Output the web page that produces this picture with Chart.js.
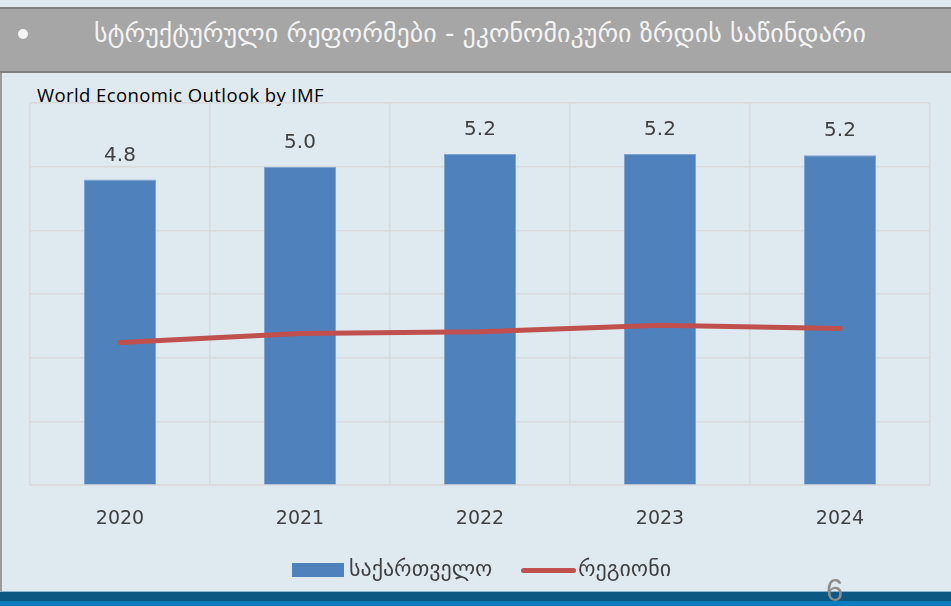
<!DOCTYPE html>
<html>
<head>
<meta charset="utf-8">
<script src="https://cdn.jsdelivr.net/npm/chart.js@4.4.0/dist/chart.umd.min.js"></script>
<style>
  html, body { margin: 0; padding: 0; }
  body { width: 951px; height: 606px; position: relative; overflow: hidden; background: #dfe9f0; font-family: 'DejaVu Sans', sans-serif; }
  #header { position: absolute; left: 0; top: 7px; width: 951px; height: 62px; background: #a6a6a6; border-top: 2px solid #7f7f7f; border-bottom: 2px solid #7f7f7f; }
  #bullet { position: absolute; left: 18px; top: 20px; width: 10px; height: 10px; border-radius: 50%; background: #f4f4f4; }
  #headline { position: absolute; left: 0; top: 9px; width: 960px; text-align: center; color: #f4f4f4; font-size: 26px; }
  #leftline { position: absolute; left: 0; top: 73px; width: 2px; height: 518px; background: #9a9a9a; }
  #subtitle { position: absolute; left: 37px; top: 82px; font-family: 'Open Sans', sans-serif; font-size: 18.5px; letter-spacing: 0.4px; color: #000; }
  #chartBox { position: absolute; left: 0; top: 90px; width: 951px; height: 478px; }
  #legend { position: absolute; left: 0; top: 556px; width: 951px; height: 28px; }
  .leg { position: absolute; top: 0; font-size: 22px; color: #404040; }
  #pagenum { position: absolute; left: 826px; top: 573px; font-family: 'Liberation Sans', sans-serif; font-size: 31px; color: #8c8c8c; z-index: 2; }
  #band1 { position: absolute; left: 0; top: 591px; width: 951px; height: 1px; background: #8fb1c6; }
  #band2 { position: absolute; left: 0; top: 592px; width: 951px; height: 9px; background: #0b5883; }
  #band3 { position: absolute; left: 0; top: 601px; width: 951px; height: 5px; background: #0b7dbf; }
</style>
</head>
<body>
<div id="header">
  <div id="bullet"></div>
  <div id="headline">სტრუქტურული რეფორმები - ეკონომიკური ზრდის საწინდარი</div>
</div>
<div id="leftline"></div>
<div id="subtitle">World Economic Outlook by IMF</div>
<div id="chartBox"><canvas id="growthChart"></canvas></div>
<div id="legend">
  <div style="position:absolute;left:292px;top:7px;width:52px;height:14px;background:#4f81bd;"></div>
  <div class="leg" style="left:349px;">საქართველო</div>
  <div style="position:absolute;left:521px;top:12px;width:55px;height:5px;border-radius:3px;background:#c0504d;"></div>
  <div class="leg" style="left:578px;">რეგიონი</div>
</div>
<div id="band1"></div>
<div id="band2"></div>
<div id="band3"></div>
<div id="pagenum">6</div>

<script>
// Data
const years = ['2020', '2021', '2022', '2023', '2024'];
const georgiaGrowth = [4.8, 5.0, 5.2, 5.2, 5.18];
const regionGrowth = [2.24, 2.38, 2.41, 2.51, 2.46];
const yTicks = [0, 1, 2, 3, 4, 5, 6];

const textColor = '#404040';
const gridColor = '#d9d9d9';

// Value labels above the bars
const barLabels = {
    id: 'barLabels',
    afterDatasetsDraw(chart) {
        const ctx = chart.ctx;
        const meta = chart.getDatasetMeta(0);
        ctx.save();
        ctx.font = '20px "DejaVu Sans", sans-serif';
        ctx.fillStyle = textColor;
        ctx.textAlign = 'center';
        ctx.textBaseline = 'middle';
        meta.data.forEach((bar, i) => {
            ctx.fillText(georgiaGrowth[i].toFixed(1), bar.x, bar.y - 24);
        });
        ctx.restore();
    }
};

const ctx = document.getElementById('growthChart').getContext('2d');
new Chart(ctx, {
    data: {
        labels: years,
        datasets: [
            {
                type: 'bar',
                label: 'საქართველო',
                data: georgiaGrowth,
                backgroundColor: '#4f81bd',
                borderColor: '#7fa3d0',
                borderWidth: 1,
                categoryPercentage: 0.8,
                barPercentage: 0.5,
                order: 2
            },
            {
                type: 'line',
                label: 'რეგიონი',
                data: regionGrowth,
                borderColor: '#c0504d',
                borderWidth: 5,
                borderCapStyle: 'round',
                pointRadius: 0,
                tension: 0,
                order: 1
            }
        ]
    },
    options: {
        responsive: true,
        maintainAspectRatio: false,
        animation: false,
        layout: {
            padding: { left: 30, right: 21, top: 13, bottom: 16 }
        },
        plugins: {
            legend: { display: false },
            tooltip: { enabled: false }
        },
        scales: {
            x: {
                grid: {
                    color: gridColor,
                    lineWidth: 1.5,
                    drawTicks: false
                },
                border: { display: true, color: gridColor, width: 1.5 },
                ticks: {
                    color: textColor,
                    padding: 22,
                    font: { family: 'DejaVu Sans', size: 19 }
                }
            },
            y: {
                min: yTicks[0],
                max: yTicks[yTicks.length - 1],
                afterBuildTicks: (axis) => {
                    axis.ticks = yTicks.map(v => ({ value: v }));
                },
                grid: {
                    color: gridColor,
                    lineWidth: 1.5,
                    drawTicks: false
                },
                border: { display: false },
                ticks: { display: false }
            }
        }
    },
    plugins: [barLabels]
});
</script>
</body>
</html>
